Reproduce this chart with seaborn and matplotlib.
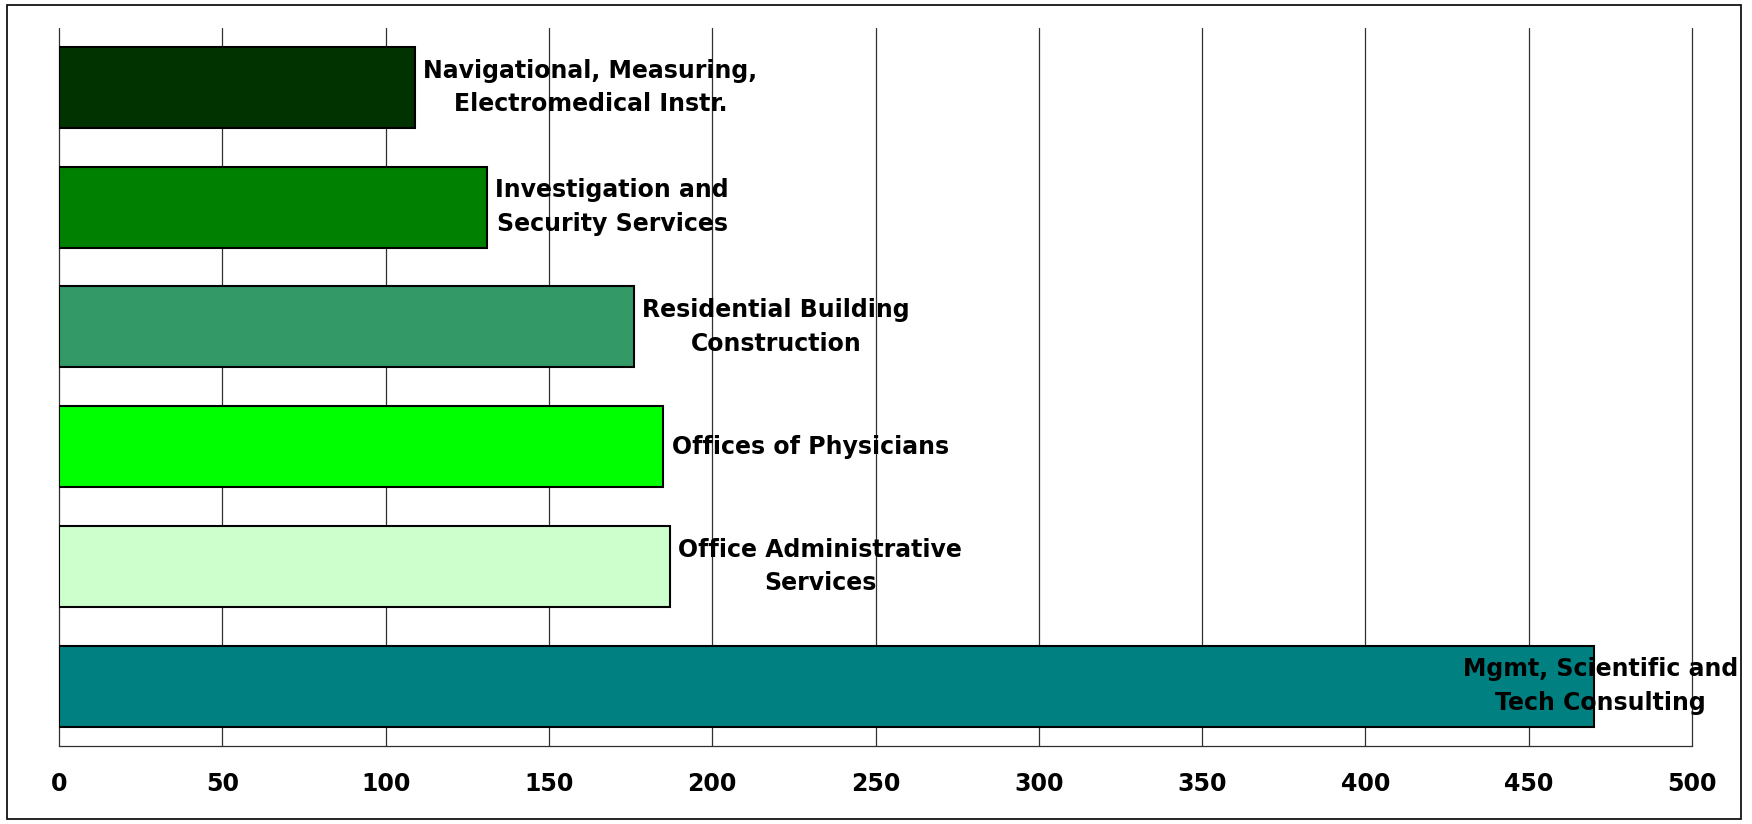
import numpy as np
import pandas as pd
import seaborn as sns
import matplotlib
matplotlib.use("Agg")
import matplotlib.pyplot as plt
from matplotlib.patches import Rectangle

# data
industries = [
    "Navigational, Measuring,\nElectromedical Instr.",
    "Investigation and\nSecurity Services",
    "Residential Building\nConstruction",
    "Offices of Physicians",
    "Office Administrative\nServices",
    "Mgmt, Scientific and\nTech Consulting",
]
values = [109, 131, 176, 185, 187, 470]
bar_colors = ["#003300", "#008000", "#339966", "#00FF00", "#CCFFCC", "#008080"]
x_ticks = list(range(0, 501, 50))

df = pd.DataFrame({"industry": industries, "value": values})

sns.set_style("white")
plt.rcParams["font.family"] = ["DejaVu Sans"]
plt.rcParams["text.color"] = "black"
plt.rcParams["xtick.color"] = "black"

fig = plt.figure(figsize=(17.52, 8.24), dpi=100)
ax = fig.add_axes([0.0337, 0.0947, 0.9321, 0.8718])

sns.barplot(data=df, x="value", y="industry", hue="industry",
            palette=bar_colors, saturation=1, legend=False, orient="h",
            width=0.676, edgecolor="black", linewidth=1.5, ax=ax, zorder=3)

ax.set_xlim(0, 500)
ax.set_ylim(5.5, -0.5)
ax.set_xticks(x_ticks)
ax.set_xticklabels([str(t) for t in x_ticks], fontsize=17, fontweight="bold",
                   color="black")
ax.set_yticks([])
ax.set_xlabel("")
ax.set_ylabel("")
ax.xaxis.grid(True, color="#303030", linewidth=0.9, zorder=0)
ax.set_axisbelow(True)
ax.tick_params(axis="x", direction="out", length=7, width=0.9, color="#303030", pad=12)
for gl in ax.get_xgridlines():
    gl.set_clip_on(False)  # keep the 0 and 500 lines full width

for s in ["top", "right", "left"]:
    ax.spines[s].set_visible(False)
ax.spines["bottom"].set_color("#303030")
ax.spines["bottom"].set_linewidth(0.9)

# bar labels, the widest one is pushed back inside the chart edge
for i, (lab, v) in enumerate(zip(industries, values)):
    if v > 400:
        ax.annotate(lab, xy=(1, i), xycoords=("axes fraction", "data"),
                    xytext=(33, 0), textcoords="offset points", ha="right",
                    va="center", multialignment="center", fontsize=17,
                    fontweight="bold", linespacing=1.5, zorder=5,
                    color="black", annotation_clip=False)
    else:
        ax.annotate(lab, xy=(v, i), xytext=(6, 0), textcoords="offset points",
                    ha="left", va="center", multialignment="center",
                    fontsize=17, fontweight="bold", linespacing=1.5, zorder=5,
                    color="black")

# outer chart border
fig.patches.append(Rectangle((0.004, 0.006), 0.99, 0.988, transform=fig.transFigure,
                             fill=False, edgecolor="black", linewidth=1.2))

fig.savefig("out.png", dpi=100)
